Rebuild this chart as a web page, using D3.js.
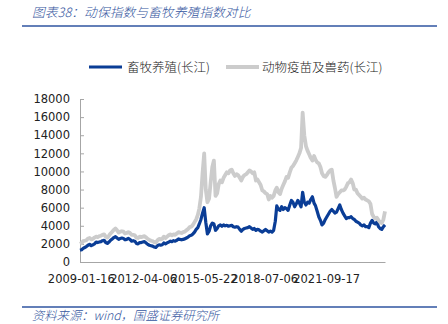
<!DOCTYPE html>
<html>
<head>
<meta charset="utf-8">
<script src="https://cdn.jsdelivr.net/npm/d3@7"></script>
<style>
  html, body { margin: 0; padding: 0; background: #fff; }
  svg { display: block; }
</style>
</head>
<body>
<svg id="chart" width="448" height="324"></svg>
<script>
// Monthly closes, Jan 2009 – Oct 2024
const startMonth = "2009-01";
const seriesNames = ["畜牧养殖(长江)", "动物疫苗及兽药(长江)"];
const livestock = [
  1300,1350,1500,1600,1700,1850,1950,1800,1900,2000,2200,2150,
  2200,2250,2350,2400,2150,2050,2200,2400,2550,2700,2800,2650,
  2500,2600,2650,2600,2450,2500,2600,2500,2300,2350,2300,2050,
  2000,2150,2150,2200,2250,2100,1950,1850,1800,1750,1650,1600,
  1800,1900,1850,1900,2100,2000,2100,2200,2300,2250,2350,2300,
  2400,2550,2500,2450,2500,2550,2650,2750,2900,2950,3100,3300,
  3600,3800,4200,4700,5400,6000,4400,3100,3400,4000,4300,4200,
  3500,3700,4000,4100,3950,4100,4000,4050,3950,4000,4050,3900,
  3850,3900,3850,3600,3400,3600,3700,3750,3800,3900,3750,3600,
  3700,3500,3600,3550,3400,3300,3450,3600,3450,3300,3400,3300,
  3500,4500,6200,5800,5700,6100,5800,6000,5900,5700,6300,6800,
  6600,6100,6400,6800,6500,6100,7700,6600,6300,6600,6500,6900,
  7200,6500,6200,5600,5000,4600,4100,4300,4700,5000,5300,5600,
  5800,5600,5400,5500,5900,6300,5800,5400,5100,4800,4900,4900,
  5000,4800,4700,4500,4400,4300,4100,4000,4100,3900,3900,3800,
  4300,4600,4300,4200,4400,3900,3700,3600,3900,4100
];
const vetPharma = [
  2000,2100,2300,2350,2400,2600,2650,2500,2550,2700,2800,2750,
  2850,2900,3000,3050,2800,2700,2900,3150,3350,3550,3700,3500,
  3250,3350,3400,3350,3150,3200,3300,3200,3000,3000,2950,2700,
  2650,2800,2750,2800,2850,2700,2550,2450,2350,2300,2200,2150,
  2400,2550,2500,2550,2800,2650,2800,2950,3050,2950,3050,3000,
  3150,3300,3250,3200,3300,3350,3500,3650,3850,3900,4100,4400,
  4700,5200,5900,7200,9800,12000,8000,6600,7000,8800,10500,11200,
  7300,7600,8600,9000,8800,9300,9600,9900,9800,10100,10200,9800,
  9500,9700,9600,9300,9000,9400,9600,9700,9900,10100,10000,9800,
  9900,9000,9100,8800,8500,7900,7800,7600,7500,6900,7300,7100,
  7300,7900,8200,7700,7500,8100,8500,8900,9400,9300,9900,10400,
  10600,10900,11200,11600,12000,12600,16500,14000,12800,12300,11900,11500,
  11200,11700,11300,11000,10900,10500,9800,9500,9400,9600,9900,10100,
  10200,9000,8200,7200,7500,7700,7900,7900,8000,8300,8700,8800,
  9100,8700,8000,8000,7600,7400,7200,7000,7100,6900,6800,6700,
  6400,5300,5000,4800,4900,4600,4400,4300,4700,5600
];
const xTickLabels = ["2009-01-16", "2012-04-06", "2015-05-22", "2018-07-06", "2021-09-17"];
const yTicks = [0, 2000, 4000, 6000, 8000, 10000, 12000, 14000, 16000, 18000];

const title = "图表38：动保指数与畜牧养殖指数对比";
const source = "资料来源：wind，国盛证券研究所";

const svg = d3.select("#chart");
const parseMonth = d3.timeParse("%Y-%m");
const parseDay = d3.timeParse("%Y-%m-%d");
const start = parseMonth(startMonth);
const dates = livestock.map((_, i) => d3.timeMonth.offset(start, i));

const rows = dates.map((d, i) => ({ date: d, a: livestock[i], b: vetPharma[i] }));

const plot = { left: 80, right: 385, top: 99, bottom: 262 };

const x = d3.scaleTime()
  .domain(d3.extent(dates))
  .range([plot.left, plot.right]);
const y = d3.scaleLinear()
  .domain([0, 18000])
  .range([plot.bottom, plot.top]);

const blue = "#0a3d96";
const grey = "#cccccc";
const rule = "#2f55a0";

// header
svg.append("text")
  .attr("x", 32).attr("y", 17)
  .attr("font-family", "'Noto Sans CJK SC', sans-serif")
  .attr("font-size", 12.8)
  .attr("font-weight", 300)
  .attr("font-style", "italic")
  .attr("fill", "#3556a0")
  .text(title);
svg.append("line")
  .attr("x1", 22).attr("x2", 437).attr("y1", 26).attr("y2", 26)
  .attr("stroke", rule).attr("stroke-width", 1.5);

// legend
const legend = svg.append("g")
  .attr("font-family", "'Noto Sans CJK SC', sans-serif")
  .attr("font-size", 12.5)
  .attr("font-weight", 300)
  .attr("fill", "#222");
[[blue, 3.2, 89, 127, seriesNames[0]], [grey, 4, 226, 262, seriesNames[1]]].forEach(([c, w, lx, tx, name]) => {
  legend.append("line")
    .attr("x1", lx).attr("x2", lx + 33).attr("y1", 67).attr("y2", 67)
    .attr("stroke", c).attr("stroke-width", w);
  legend.append("text")
    .attr("x", tx).attr("y", 71.5)
    .text(name);
});

// y axis
const yAxis = svg.append("g")
  .attr("transform", `translate(${plot.left},0)`)
  .call(d3.axisLeft(y).tickValues(yTicks).tickFormat(d3.format("d")).tickSizeInner(-4).tickSizeOuter(0).tickPadding(10));
yAxis.select(".domain").attr("stroke", "#a6a6a6");
yAxis.selectAll(".tick line").attr("stroke", "#a6a6a6");
yAxis.selectAll(".tick text")
  .attr("font-family", "'DejaVu Sans', sans-serif")
  .attr("font-size", 11.5)
  .attr("fill", "#222");

// x axis
const xAxis = svg.append("g")
  .attr("transform", `translate(0,${plot.bottom})`)
  .call(d3.axisBottom(x).tickValues(xTickLabels.map(parseDay)).tickFormat(d3.timeFormat("%Y-%m-%d")).tickSize(0).tickPadding(13));
xAxis.select(".domain").attr("stroke", "#a6a6a6");
xAxis.selectAll(".tick text")
  .attr("font-family", "'DejaVu Sans', sans-serif")
  .attr("font-size", 11.5)
  .attr("fill", "#222");

// series
const lineA = d3.line().x(d => x(d.date)).y(d => y(d.a)).curve(d3.curveLinear);
const lineB = d3.line().x(d => x(d.date)).y(d => y(d.b)).curve(d3.curveLinear);

svg.append("path")
  .datum(rows)
  .attr("d", lineA)
  .attr("fill", "none")
  .attr("stroke", blue)
  .attr("stroke-width", 3.2)
  .attr("stroke-linejoin", "round");
svg.append("path")
  .datum(rows)
  .attr("d", lineB)
  .attr("fill", "none")
  .attr("stroke", grey)
  .attr("stroke-width", 3.8)
  .attr("stroke-linejoin", "round");

// footer
svg.append("line")
  .attr("x1", 22).attr("x2", 437).attr("y1", 307).attr("y2", 307)
  .attr("stroke", rule).attr("stroke-width", 1.5);
svg.append("text")
  .attr("x", 32).attr("y", 320)
  .attr("font-family", "'Noto Sans CJK SC', sans-serif")
  .attr("font-size", 12.3)
  .attr("font-weight", 300)
  .attr("font-style", "italic")
  .attr("fill", "#3556a0")
  .text(source);
</script>
</body>
</html>
